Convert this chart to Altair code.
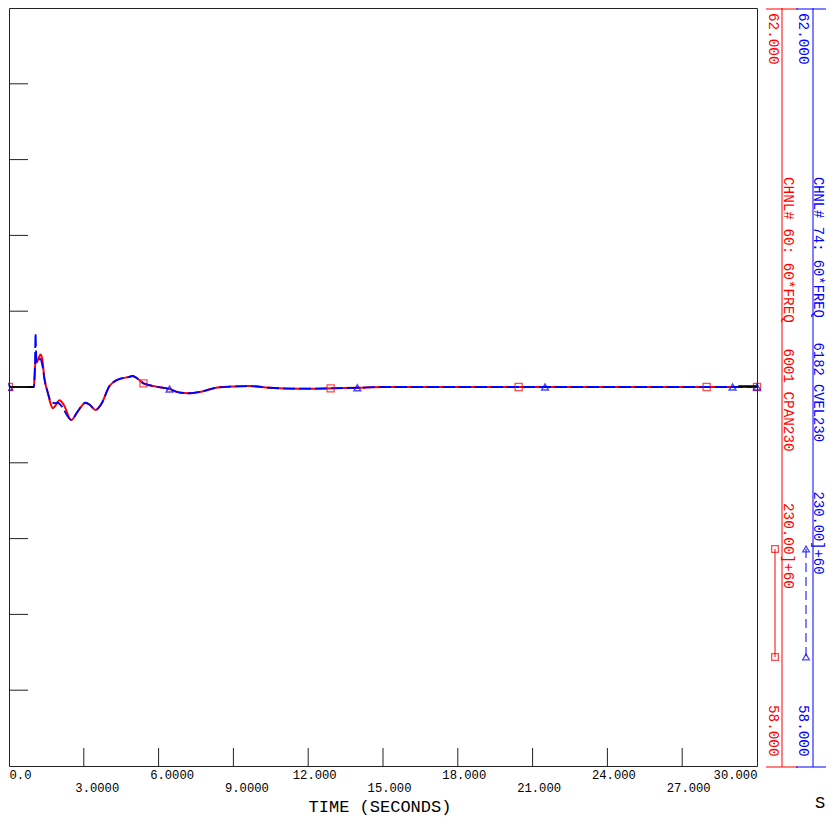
import json
import altair as alt
import pandas as pd

# ---------------- data ----------------
red_time = [0.0, 1.0, 1.02, 1.063, 1.10, 1.18, 1.264, 1.33, 1.424, 1.556, 1.66, 1.757,
            1.85, 2.026, 2.2, 2.495, 2.75, 3.069, 3.25, 3.47, 3.7, 4.031, 4.3, 4.834,
            4.954, 5.15, 5.395, 5.905, 6.438, 6.8, 7.24, 7.7, 8.311, 9.0, 9.647,
            10.449, 11.652, 12.896, 13.967, 15.0, 22.0, 30.0]
red_freq = [60.0, 60.0, 60.05, 60.137, 60.128, 60.15, 60.172, 60.15, 60.04, 59.97, 59.915, 59.888,
            59.9, 59.93, 59.905, 59.826, 59.87, 59.917, 59.905, 59.879, 59.91, 60.005, 60.035, 60.054,
            60.058, 60.045, 60.019, 60.002, 59.989, 59.972, 59.967, 59.975, 59.996, 60.003, 60.005,
            59.996, 59.991, 59.993, 59.996, 60.0, 60.0, 60.0]

blue_time = [0.0, 1.0, 1.04, 1.063, 1.09, 1.115, 1.25, 1.33, 1.424, 1.556, 1.693, 1.85,
             1.957, 2.1, 2.495, 2.75, 3.069, 3.25, 3.47, 3.7, 4.031, 4.3, 4.834,
             4.954, 5.15, 5.395, 5.905, 6.438, 6.8, 7.24, 7.7, 8.311, 9.0, 9.647,
             10.449, 11.652, 12.896, 13.967, 15.0, 22.0, 30.0]
blue_freq = [60.0, 60.0, 60.1, 60.284, 60.17, 60.128, 60.149, 60.12, 60.042, 59.97, 59.921, 59.915,
             59.917, 59.9, 59.826, 59.87, 59.917, 59.905, 59.879, 59.91, 60.005, 60.035, 60.054,
             60.058, 60.045, 60.019, 60.002, 59.989, 59.972, 59.967, 59.975, 59.996, 60.003, 60.005,
             59.996, 59.991, 59.993, 59.996, 60.0, 60.0, 60.0]

red_marker_time = [0.0, 5.395, 12.90, 20.44, 27.98, 30.0]
red_marker_freq = [60.0, 60.019, 59.993, 60.0, 60.0, 60.0]
blue_marker_time = [0.0, 6.44, 13.97, 21.5, 29.02, 30.0]
blue_marker_freq = [60.0, 59.989, 59.996, 60.0, 60.0, 60.0]

black_time = [0.0, 1.0, 29.25, 30.0]
black_freq = [60.0, 60.0, 60.004, 60.004]
black_seg = ["a", "a", "b", "b"]

x_tick_values = [0, 3, 6, 9, 12, 15, 18, 21, 24, 27, 30]
x_tick_labels = ["0.0", "3.0000", "6.0000", "9.0000", "12.000", "15.000",
                 "18.000", "21.000", "24.000", "27.000", "30.000"]
y_tick_values = [58.4, 58.8, 59.2, 59.6, 60.0, 60.4, 60.8, 61.2, 61.6]
x_inner_ticks = [3, 6, 9, 12, 15, 18, 21, 24, 27]

red_top_label = "62.000"
red_bottom_label = "58.000"
red_channel_label = "CHNL# 60: 60*FREQ   6001 CPAN230      230.00]+60"
blue_top_label = "62.000"
blue_bottom_label = "58.000"
blue_channel_label = "CHNL# 74: 60*FREQ   6182 CVEL230      230.00]+60"
x_title = "TIME (SECONDS)"
corner_text = "S"

RED = "#ff0000"
BLUE = "#0000ff"
FONT = "Liberation Mono"
W, H = 748, 758
NB = "\u00a0"

rows = [[NB, s] if i % 2 == 1 else s for i, s in enumerate(x_tick_labels)]
label_expr = json.dumps(rows, ensure_ascii=False) + "[round(datum.value/3)]"

xscale = alt.Scale(domain=[0, 30], nice=False, zero=False)
yscale = alt.Scale(domain=[58, 62], nice=False, zero=False)

red_df = pd.DataFrame({"t": red_time, "f": red_freq})
blue_df = pd.DataFrame({"t": blue_time, "f": blue_freq})
black_df = pd.DataFrame({"t": black_time, "f": black_freq, "s": black_seg})
rm_df = pd.DataFrame({"t": red_marker_time, "f": red_marker_freq})
bm_df = pd.DataFrame({"t": blue_marker_time, "f": blue_marker_freq})
ytick_df = pd.DataFrame({"f": y_tick_values})
xtick_df = pd.DataFrame({"t": x_inner_ticks})
one = pd.DataFrame({"k": [0]})

xenc = alt.X("t:Q", scale=xscale,
             axis=alt.Axis(values=x_tick_values, labelExpr=label_expr, ticks=False, domain=False,
                           grid=False, labelOverlap=False,
                           labelAlign=alt.ExprRef("datum.value == 0 ? 'left' : (datum.value == 30 ? 'right' : 'center')"),
                           labelOffset=alt.ExprRef("datum.value == 0 || datum.value == 30 ? 0 : (datum.value < 10 ? 13 : 6)"),
                           labelFont=FONT, labelFontSize=12.2, labelColor="#000",
                           labelLineHeight=13, labelPadding=2, title=None))
yenc = alt.Y("f:Q", scale=yscale, axis=None)

red_line = alt.Chart(red_df).mark_line(color=RED, strokeWidth=2, interpolate="monotone").encode(x=xenc, y=yenc)
blue_line = alt.Chart(blue_df).mark_line(color=BLUE, strokeWidth=1.8, strokeDash=[12, 4],
                                         interpolate="monotone").encode(x="t:Q", y="f:Q")
black_line = alt.Chart(black_df).mark_line(color="#000", strokeWidth=2).encode(x="t:Q", y="f:Q", detail="s:N")
red_pts = alt.Chart(rm_df).mark_point(shape="square", size=50, color=RED, filled=False,
                                      strokeWidth=1.3).encode(x="t:Q", y="f:Q")
blue_pts = alt.Chart(bm_df).mark_point(shape="triangle-up", size=45, color=BLUE, filled=False,
                                       strokeWidth=1.5).encode(x="t:Q", y="f:Q")
yticks = alt.Chart(ytick_df).mark_rule(color="#222", strokeWidth=1).encode(
    y="f:Q", x=alt.value(0), x2=alt.value(19))
xticks = alt.Chart(xtick_df).mark_rule(color="#222", strokeWidth=1).encode(
    x="t:Q", y=alt.value(H), y2=alt.value(H - 18))


def vrule(x, y1, y2, color, dash=None):
    kw = {"color": color, "strokeWidth": 1}
    if dash:
        kw["strokeDash"] = dash
    return alt.Chart(one).mark_rule(**kw).encode(x=alt.value(x), y=alt.value(y1), y2=alt.value(y2))


def hrule(x1, x2, y, color):
    return alt.Chart(one).mark_rule(color=color, strokeWidth=1).encode(
        x=alt.value(x1), x2=alt.value(x2), y=alt.value(y))


def vtext(x, y, txt, color, size=14.3, baseline="middle"):
    return alt.Chart(one).mark_text(text=txt.replace(" ", NB), angle=90, align="left", baseline=baseline,
                                    font=FONT, fontSize=size, color=color).encode(
        x=alt.value(x), y=alt.value(y))


def marker(x, y, shape, color):
    return alt.Chart(one).mark_point(shape=shape, size=45, color=color, filled=False,
                                     strokeWidth=1.3).encode(x=alt.value(x), y=alt.value(y))


BX = 804  # blue side axis line (chart px)
deco = [
    vrule(773, 0, 759, RED), hrule(757, 789, 1, RED), hrule(757, 789, 759, RED),
    vtext(763.5, 5, red_top_label, RED), vtext(779, 169, red_channel_label, RED),
    vtext(763.5, 697, red_bottom_label, RED),
    vrule(766, 541, 649, RED), marker(766, 541, "square", RED), marker(766, 649, "square", RED),
    vrule(BX, 0, 759, BLUE), hrule(BX - 17, 818, 1, BLUE), hrule(BX - 17, 818, 759, BLUE),
    vtext(BX - 10, 5, blue_top_label, BLUE),
    vtext(BX + 1, 169, blue_channel_label, BLUE, size=13.8, baseline="alphabetic"),
    vtext(BX - 10, 697, blue_bottom_label, BLUE),
    vrule(BX - 7, 541, 649, BLUE, dash=[9, 5]), marker(BX - 7, 541, "triangle-up", BLUE),
    marker(BX - 7, 649, "triangle-up", BLUE),
    alt.Chart(one).mark_text(text=x_title, font=FONT, fontSize=17, color="#000",
                             baseline="alphabetic", align="center").encode(
        x=alt.value(371), y=alt.value(804)),
    alt.Chart(one).mark_text(text=corner_text, font=FONT, fontSize=17, color="#000",
                             baseline="alphabetic", align="left").encode(
        x=alt.value(806), y=alt.value(800)),
]

chart = alt.layer(red_line, blue_line, red_pts, blue_pts, black_line, yticks, xticks, *deco).properties(
    width=W, height=H,
    padding={"left": 1, "top": 0, "right": 69, "bottom": 50},
    autosize=alt.AutoSizeParams(type="none"),
).configure_view(stroke="#222", strokeWidth=1)

chart.save("out.html", embed_options={"renderer": "svg", "actions": False})
